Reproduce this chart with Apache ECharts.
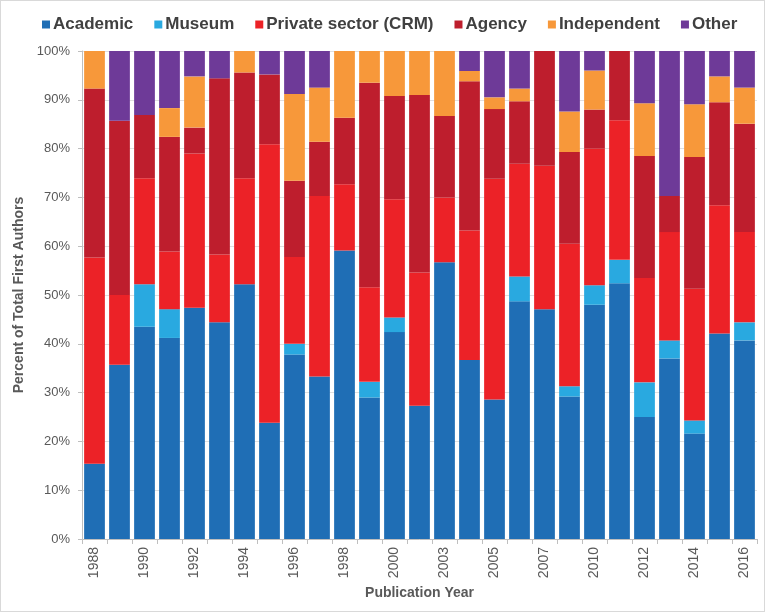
<!DOCTYPE html>
<html>
<head>
<meta charset="utf-8">
<script src="https://cdn.jsdelivr.net/npm/echarts@6/dist/echarts.min.js"></script>
<style>
html,body{margin:0;padding:0;background:#fff;}
#frame{position:absolute;left:0;top:0;width:765px;height:612px;box-sizing:border-box;border:1px solid #d9d9d9;}
#chart{position:absolute;left:0;top:0;width:765px;height:612px;}
</style>
</head>
<body>
<div id="frame"></div>
<div id="chart"></div>
<script>
const categories = ['1988','1989','1990','1991','1992','1993','1994','1995','1996','1997','1998','1999','2000','2002','2003','2004','2005','2006','2007','2009','2010','2011','2012','2013','2014','2015','2016'];
const academic    = [15.4,35.7,43.5,41.2,47.4,44.4,52.2,23.8,37.8,33.3,59.1,29.0,42.4,27.3,56.7,36.7,28.6,48.7,47.1,29.2,48.0,52.4,25.0,37.0,21.6,42.1,40.7];
const museum      = [0,0,8.7,5.9,0,0,0,0,2.2,0,0,3.2,3.0,0,0,0,0,5.1,0,2.1,4.0,4.8,7.1,3.7,2.7,0,3.7];
const privateCRM  = [42.3,14.3,21.7,11.8,31.6,13.9,21.7,57.1,17.8,37.0,13.6,19.4,24.2,27.3,13.3,26.5,45.2,23.1,29.4,29.2,28.0,28.6,21.4,22.2,27.0,26.3,18.5];
const agency      = [34.6,35.7,13.0,23.5,5.3,36.1,21.7,14.3,15.6,11.1,13.6,41.9,21.2,36.4,16.7,30.6,14.3,12.8,23.5,18.8,8.0,14.2,25.0,7.4,27.0,21.1,22.2];
const independent = [7.7,0,0,5.9,10.5,0,4.4,0,17.8,11.1,13.7,6.5,9.2,9.0,13.3,2.1,2.4,2.6,0,8.3,8.0,0,10.8,0,10.8,5.3,7.4];
const other       = [0,14.3,13.1,11.7,5.2,5.6,0,4.8,8.8,7.5,0,0,0,0,0,4.1,9.5,7.7,0,12.4,4.0,0,10.7,29.7,10.9,5.2,7.5];
const seriesNames = ['Academic','Museum','Private sector (CRM)','Agency','Independent','Other'];
const colors = ['#1F6EB5','#29A9E0','#EC2227','#BE1E2D','#F7983A','#6E3A98'];
const values = [academic, museum, privateCRM, agency, independent, other];
const yTicks = [0,10,20,30,40,50,60,70,80,90,100];

const FONT = 'Liberation Sans, Arial, sans-serif';
const chart = echarts.init(document.getElementById('chart'));
chart.setOption({
  animation:false,
  textStyle:{fontFamily:FONT},
  color: colors,
  legend:{
    data: seriesNames,
    top: 11, left: 37,
    icon:'rect', itemWidth:8, itemHeight:8, itemGap:21,
    textStyle:{fontFamily:FONT, fontSize:17, fontWeight:'bold', color:'#404040', padding:[0,0,0,-2]}
  },
  grid:{left:82, right:8, top:51, bottom:73, containLabel:false},
  xAxis:{
    type:'category', data: categories,
    name:'Publication Year', nameLocation:'middle', nameGap:38,
    nameTextStyle:{fontFamily:FONT, fontSize:14, fontWeight:'bold', color:'#595959'},
    axisLine:{show:true, lineStyle:{color:'#bfbfbf'}},
    axisTick:{show:true, interval:0, length:5, lineStyle:{color:'#bfbfbf'}},
    axisLabel:{interval:1, rotate:90, fontSize:14, color:'#595959', margin:8}
  },
  yAxis:{
    type:'value', min:yTicks[0], max:yTicks[yTicks.length-1], interval:10,
    name:'Percent of Total First Authors', nameLocation:'middle', nameGap:49,
    nameTextStyle:{fontFamily:FONT, fontSize:14, fontWeight:'bold', color:'#595959'},
    axisLine:{show:true, lineStyle:{color:'#bfbfbf'}},
    axisTick:{show:true, length:4, lineStyle:{color:'#bfbfbf'}},
    axisLabel:{formatter:'{value}%', fontSize:13, color:'#595959', margin:12},
    splitLine:{show:true, lineStyle:{color:'#e0e0e0'}}
  },
  series: seriesNames.map((n,i)=>({
    name:n, type:'bar', stack:'total', data: values[i],
    barCategoryGap:'17%'
  }))
});
</script>
</body>
</html>
